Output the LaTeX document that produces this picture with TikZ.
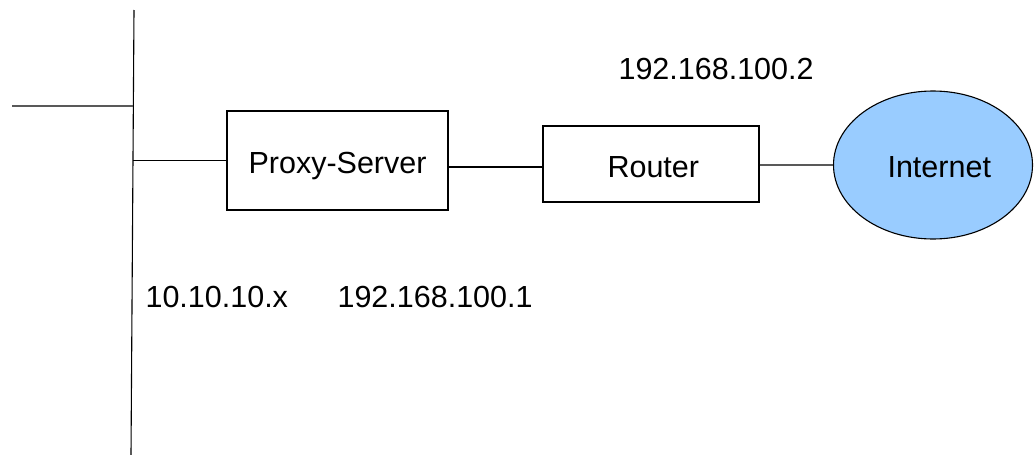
\documentclass[tikz,border=0pt]{standalone}
\usepackage{fontspec}
\setmainfont{Liberation Sans}
\usetikzlibrary{shapes.geometric,calc}
\definecolor{netblue}{HTML}{99CCFF}
\begin{document}
\begin{tikzpicture}[x=1pt,y=-1pt,
  line width=1.1pt,
  lbl/.style={anchor=base west,inner sep=0pt,font=\fontsize{30.5}{36}\selectfont},
  boxnode/.style={draw=black,rectangle,inner sep=0pt},
  wire/.style={draw=black},
  greywire/.style={draw=black!65}]
\useasboundingbox (0,0) rectangle (1034,455);
% bus
\coordinate (bustop) at (134,10);
\coordinate (busbot) at (131,455);
\coordinate (stubL) at (12,106);
\coordinate (stubR) at (133.4,106);
\coordinate (tapP) at (133,160.5);
\draw[wire] (bustop) -- (busbot);
\draw[greywire] (stubL) -- (stubR);
% boxes
\node[boxnode,minimum width=221pt,minimum height=99pt] (proxy) at (337.5,160.5) {};
\node[boxnode,minimum width=216pt,minimum height=76pt] (router) at (651,164) {};
\node[draw=black,ellipse,fill=netblue,inner sep=0pt,minimum width=199pt,minimum height=148pt] (inet) at (933,165) {};
% texts
\node[lbl] (tproxy) at (248,173) {Proxy-Server};
\node[lbl] (trouter) at (607,177) {Router};
\node[lbl] (tinet) at (887,177) {Internet};
\node[lbl] (ip2) at (618,79) {192.168.100.2};
\node[lbl] (ipx) at (145,307) {10.10.10.x};
\node[lbl] (ip1) at (337,307) {192.168.100.1};
% connectors
\coordinate (l2) at (0,167);
\coordinate (l3) at (0,165);
\draw[wire] (tapP) -- (proxy.west);
\draw[wire] (proxy.east |- l2) -- (router.west |- l2);
\draw[greywire] (router.east |- l3) -- (inet.west);
\end{tikzpicture}
\end{document}
